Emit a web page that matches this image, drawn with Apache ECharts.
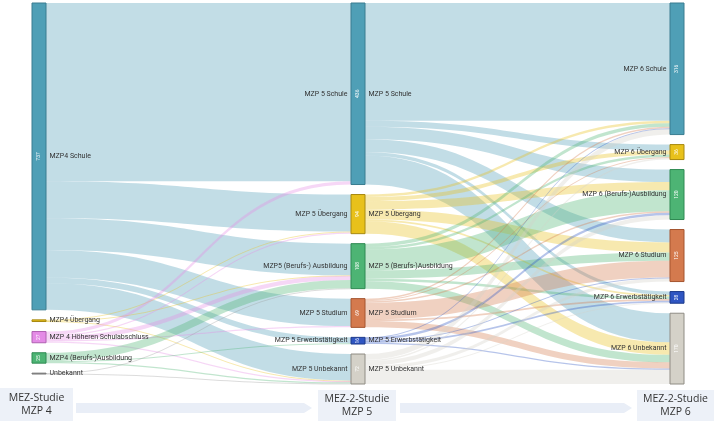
<!DOCTYPE html>
<html><head><meta charset="utf-8">
<script src="https://cdn.jsdelivr.net/npm/echarts@6/dist/echarts.min.js"></script>
<style>html,body{margin:0;padding:0;background:#fff}#c{width:714px;height:425px}</style>
</head><body><div id="c"></div>
<script>
// ---- data ----
const col1 = ['MZP4 Schule','MZP4 Übergang','MZP 4 Höheren Schulabschluss','MZP4 (Berufs-)Ausbildung','Unbekannt'];
const col2 = ['MZP 5 Schule','MZP 5 Übergang','MZP 5 (Berufs-)Ausbildung','MZP 5 Studium','MZP 5 Erwerbstätigkeit','MZP 5 Unbekannt'];
const col2LeftLabels = ['MZP 5 Schule','MZP 5 Übergang','MZP5 (Berufs-) Ausbildung','MZP 5 Studium','MZP 5 Erwerbstätigkeit','MZP 5 Unbekannt'];
const col3 = ['MZP 6 Schule','MZP 6 Übergang','MZP 6 (Berufs-)Ausbildung','MZP 6 Studium','MZP 6 Erwerbstätigkeit','MZP 6 Unbekannt'];
// flows from column 1 (rows) to column 2 (cols)
const flows12 = [
  [428, 89, 76, 66, 14, 64],
  [0, 2, 1, 0, 0, 1],
  [8, 3, 10, 3, 0, 3],
  [0, 0, 20, 0, 2, 3],
  [0, 0, 1, 0, 0, 1]
];
// flows from column 2 (rows) to column 3 (cols)
const flows23 = [
  [283, 14, 30, 31, 8, 70],
  [6, 10, 20, 24, 4, 30],
  [8, 6, 50, 20, 6, 18],
  [4, 2, 4, 40, 4, 15],
  [1, 0, 6, 2, 4, 3],
  [14, 4, 10, 8, 2, 34]
];
const stageTitles = [['MEZ-Studie','MZP 4'],['MEZ-2-Studie','MZP 5'],['MEZ-2-Studie','MZP 6']];

// ---- styles ----
const col1Colors = ['#4f9fb6','#e8c11b','#e48be6','#4db474','#9a9a9a'];
const col1Borders = ['#3a7d90','#a88a10','#b062b2','#2f8a52','#777777'];
const colColors = ['#4f9fb6','#e8c11b','#4db474','#d47a4e','#2f55c2','#d4d1c8'];
const colBorders = ['#3a7d90','#a88a10','#2f8a52','#a5552f','#1d3a8a','#8f8c84'];

function buildNodes(mode){
  const nodes = [];
  const add = (name, color, border, col, idx) => {
    const n = {name: name, itemStyle: {color: color, borderColor: border, borderWidth: 1}};
    if (mode === 'main') {
      n.label = {show: true, position: col === 3 ? 'left' : 'right'};
    } else if (mode === 'left') {
      n.label = col === 2 ? {show: true, position: 'left', formatter: col2LeftLabels[idx]} : {show: false};
    } else {
      n.label = {show: true, position: 'inside', rotate: 90, formatter: p => p.value >= 10 ? String(p.value) : ''};
    }
    nodes.push(n);
  };
  col1.forEach((n,i)=>add(n, col1Colors[i], col1Borders[i], 1, i));
  col2.forEach((n,i)=>add(n, colColors[i], colBorders[i], 2, i));
  col3.forEach((n,i)=>add(n, colColors[i], colBorders[i], 3, i));
  return nodes;
}
function buildLinks(){
  const links = [];
  flows12.forEach((row,i)=>row.forEach((v,j)=>{ if(v>0) links.push({source: col1[i], target: col2[j], value: v, lineStyle:{color: col1Colors[i]}}); }));
  flows23.forEach((row,i)=>row.forEach((v,j)=>{ if(v>0) links.push({source: col2[i], target: col3[j], value: v, lineStyle:{color: colColors[i]}}); }));
  return links;
}

const base = {
  type: 'sankey', left: 32, right: 30, top: 3, bottom: 41,
  nodeWidth: 14, nodeGap: 10, layoutIterations: 0, draggable: false,
  emphasis: {disabled: true},
  label: {fontSize: 7, color: '#333', fontFamily: 'Roboto', distance: 3},
  links: buildLinks()
};

const chart = echarts.init(document.getElementById('c'), null, {renderer: 'canvas'});

// bottom stage boxes & arrows (decoration)
const graphics = [];
const boxes = [[0,388,73,33],[318,390,78,31],[637,390,77,31]];
boxes.forEach((b,i)=>{
  graphics.push({type:'rect', shape:{x:b[0],y:b[1],width:b[2],height:b[3]}, style:{fill:'#edf1f8'}, silent:true});
  graphics.push({type:'text', x:b[0]+b[2]/2, y:b[1]+b[3]/2, style:{text: stageTitles[i].join('\n'), fill:'#333', font:'10.5px "Open Sans"', align:'center', verticalAlign:'middle', lineHeight: 13}, silent:true});
});
const arrows = [[76,312],[400,632]];
arrows.forEach(a=>{
  graphics.push({type:'polygon', shape:{points:[[a[0],403],[a[1]-8,403],[a[1],408],[a[1]-8,413],[a[0],413]]}, style:{fill:'#e9eef7'}, silent:true});
});

chart.setOption({
  animation: false,
  series: [
    Object.assign({}, base, {data: buildNodes('main'), lineStyle: {opacity: 0.35, curveness: 0.5}}),
    Object.assign({}, base, {data: buildNodes('left'), silent: true, itemStyle:{opacity:0}, lineStyle:{opacity:0}}),
    Object.assign({}, base, {data: buildNodes('value'), silent: true, itemStyle:{opacity:0}, lineStyle:{opacity:0},
      label: {fontSize: 5, color: '#fff', fontFamily: 'Roboto'}})
  ],
  graphic: graphics
});
</script></body></html>
